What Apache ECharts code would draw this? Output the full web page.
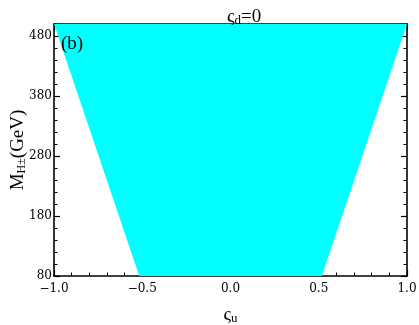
<!DOCTYPE html>
<html><head><meta charset="utf-8">
<script src="https://cdn.jsdelivr.net/npm/echarts@6/dist/echarts.min.js"></script>
<style>html,body{margin:0;padding:0;background:#fff}#c{width:419px;height:325px}</style>
</head><body><div id="c"></div>
<script>
// Allowed region polygon vertices (zeta_u, M_H±)
const regionZetaU = [-1.0, 1.0, 0.517, -0.517];
const regionMass = [500, 500, 80, 80];
const xTicks = [-1.0, -0.5, 0.0, 0.5, 1.0];
const yTicks = [80, 180, 280, 380, 480];

const TICKFONT = 'DejaVu Serif';
const NAMEFONT = 'Liberation Serif';
const chart = echarts.init(document.getElementById('c'), null, {renderer: 'canvas'});
const pts = regionZetaU.map((x, i) => [x, regionMass[i]]);

const axisCommon = {
  axisLine: {show: true, onZero: false, lineStyle: {color: '#000', width: 1.6}},
  axisTick: {show: true, inside: true, length: 6, lineStyle: {color: '#000', width: 1.2}},
  minorTick: {show: true, splitNumber: 5, length: 3.5, lineStyle: {color: '#000', width: 1}},
  splitLine: {show: false},
  minorSplitLine: {show: false}
};

chart.setOption({
  animation: false,
  grid: {left: 54, right: 12, top: 24, bottom: 49, outerBoundsMode: 'none', containLabel: false},
  title: {
    text: '{z|ς}{s|d}{z|=0}', left: 222, top: 2,
    textStyle: {fontWeight: 'normal', rich: {
      z: {fontFamily: NAMEFONT, fontSize: 19, color: '#000', fontWeight: 'normal', verticalAlign: 'bottom'},
      s: {fontFamily: NAMEFONT, fontSize: 13, color: '#000', fontWeight: 'normal', padding: [7, 0, 0, 0], verticalAlign: 'bottom'}
    }}
  },
  xAxis: [
    Object.assign({}, axisCommon, {
      type: 'value', min: -1, max: 1, interval: 0.5, position: 'bottom',
      axisLabel: {fontFamily: TICKFONT, fontSize: 12, color: '#000', margin: 7,
        customValues: xTicks,
        formatter: v => (v < 0 ? '\u2212' : '') + Math.abs(v).toFixed(1)},
      name: '{z|ς}{s|u}', nameLocation: 'middle', nameGap: 29, nameMoveOverlap: false,
      nameTextStyle: {rich: {
        z: {fontFamily: NAMEFONT, fontSize: 19, color: '#000'},
        s: {fontFamily: NAMEFONT, fontSize: 13, color: '#000', padding: [7, 0, 0, 0]}
      }}
    }),
    Object.assign({}, axisCommon, {
      type: 'value', min: -1, max: 1, interval: 0.5, position: 'top',
      axisLabel: {show: false}
    })
  ],
  yAxis: [
    Object.assign({}, axisCommon, {
      type: 'value', min: 80, max: 500, interval: 100, position: 'left',
      axisLabel: {fontFamily: TICKFONT, fontSize: 12, color: '#000', margin: 2,
        customValues: yTicks},
      name: '{z|M}{s|H±}{z|(GeV)}', nameLocation: 'middle', nameGap: 26, nameRotate: 90,
      nameMoveOverlap: false,
      nameTextStyle: {rich: {
        z: {fontFamily: NAMEFONT, fontSize: 19, color: '#000'},
        s: {fontFamily: NAMEFONT, fontSize: 12, color: '#000', padding: [8, 0, 0, 0]}
      }}
    }),
    Object.assign({}, axisCommon, {
      type: 'value', min: 80, max: 500, interval: 100, position: 'right',
      axisLabel: {show: false}
    })
  ],
  graphic: [{
    type: 'text', left: 61, top: 35, z: 100,
    style: {text: '(b)', font: '19px "Liberation Serif"', fill: '#000'}
  }],
  series: [{
    type: 'custom',
    coordinateSystem: 'cartesian2d',
    data: [0],
    clip: true,
    renderItem: function (params, api) {
      return {
        type: 'polygon',
        shape: {points: pts.map(p => api.coord(p))},
        style: {fill: '#00ffff', stroke: null}
      };
    },
    z: 1
  }]
});
</script></body></html>
